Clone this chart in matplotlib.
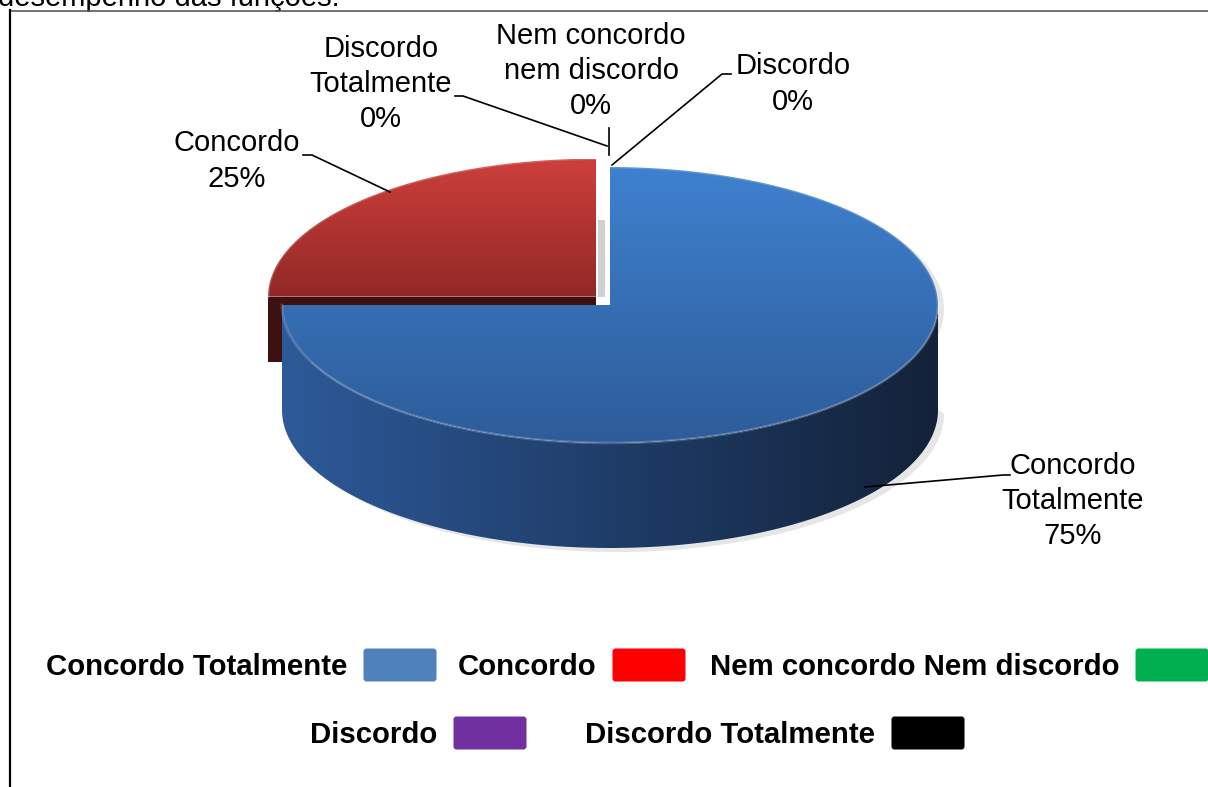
"""3D-style pie of agreement answers with legend below."""

import numpy as np
import matplotlib.pyplot as plt
from matplotlib.patches import Polygon, FancyBboxPatch
from matplotlib.colors import LinearSegmentedColormap

categories = ["Concordo Totalmente", "Concordo", "Nem concordo Nem discordo",
              "Discordo", "Discordo Totalmente"]
slice_labels = ["Concordo\nTotalmente", "Concordo", "Nem concordo\nnem discordo",
                "Discordo", "Discordo\nTotalmente"]
shares = [75, 25, 0, 0, 0]
explode = [0.0, 0.06, 0.0, 0.0, 0.0]
legend_colors = ["#4f81bd", "#ff0000", "#00b050", "#7030a0", "#000000"]
top_colors = [["#3f81cf", "#2d5c99"], ["#cd3f3c", "#922826"],
              ["#00b050", "#00803a"], ["#7030a0", "#4f2272"], ["#333333", "#000000"]]
side_colors = [["#2d5a99", "#1f3d69", "#132239"], ["#4a1414", "#3e1111", "#2a0b0b"],
               ["#006830", "#005020", "#003010"], ["#4a2070", "#3a1858", "#2a1040"],
               ["#111111", "#080808", "#000000"]]
cut_colors = ["#1b3357", "#3e1111", "#004020", "#301248", "#000000"]

# pie geometry in pixels
cx, cy = 610, 305
ra, rb = 328, 138
depth = 105
back_depth = 0.62   # perspective: walls of slices sitting behind look shorter

FONT = "Liberation Sans"
FS = 21
FS_LEG = 21.2


def ell(x0, y0, th):
    th = np.radians(th)
    return np.column_stack([x0 + ra * np.cos(th), y0 - rb * np.sin(th)])


def fill_gradient(ax, xy, colors, vertical=True, zorder=1):
    patch = Polygon(xy, closed=True, facecolor="none", edgecolor="none",
                    transform=ax.transData)
    ax.add_patch(patch)
    cmap = LinearSegmentedColormap.from_list("g", colors)
    x0, y0 = xy.min(axis=0)
    x1, y1 = xy.max(axis=0)
    ramp = np.linspace(0, 1, 256)
    img = ramp[:, None] if vertical else ramp[None, :]
    im = ax.imshow(img, cmap=cmap, extent=(x0, x1, y1, y0), origin="upper",
                   aspect="auto", interpolation="bilinear", zorder=zorder)
    im.set_clip_path(patch)


fig = plt.figure(figsize=(12.08, 7.87), dpi=100)
ax = fig.add_axes([0, 0, 1, 1])
ax.set_axis_off()

total = float(sum(shares))
bounds = []
t = 90.0
for s in shares:
    sweep = s / total * 360.0
    bounds.append((t, t - sweep))
    t -= sweep

# soft shadow behind the pie
shadow = np.vstack([ell(cx + 6, cy + 4, np.linspace(90, -180, 200)),
                    ell(cx + 6, cy + 4 + depth, np.linspace(0, -180, 120))[::-1]])
ax.add_patch(Polygon(shadow, closed=True, facecolor="#c8c8c8", alpha=0.45,
                     edgecolor="none", zorder=0.5))
# shadow seen through the gap of the exploded slice
ax.add_patch(Polygon([(cx - 12, cy - 85), (cx - 5, cy - 85), (cx - 5, cy - 8),
                      (cx - 12, cy - 8)], closed=True, facecolor="#d0d0d0",
                     edgecolor="none", zorder=0.6))

for i in reversed(range(len(shares))):
    if shares[i] == 0:
        continue
    t0, t1 = bounds[i]
    mid = np.radians((t0 + t1) / 2)
    ox = cx + explode[i] * ra * np.cos(mid)
    oy = cy - explode[i] * ra * 0.6 * np.sin(mid)
    z = 3 if i == 0 else 1
    d = depth if np.sin(mid) <= 0 else depth * back_depth
    # radial cut faces that turn towards the viewer
    for tt, visible in ((t0, np.cos(np.radians(t0)) < -1e-6),
                        (t1, np.cos(np.radians(t1)) > 1e-6)):
        if visible:
            rim = ell(ox, oy, np.array([tt]))[0]
            face = np.array([[ox, oy], rim, [rim[0], rim[1] + d], [ox, oy + d]])
            ax.add_patch(Polygon(face, closed=True, facecolor=cut_colors[i],
                                 edgecolor="none", zorder=z))
    # front side wall
    lo, hi = max(t1, -180.0), min(t0, 0.0)
    if hi > lo:
        th = np.linspace(hi, lo, 200)
        wall = np.vstack([ell(ox, oy, th), ell(ox, oy + d, th)[::-1]])
        fill_gradient(ax, wall, side_colors[i], vertical=False, zorder=z + 0.1)
    # top face
    th = np.linspace(t0, t1, 300)
    top = np.vstack([[ox, oy], ell(ox, oy, th)])
    fill_gradient(ax, top, top_colors[i], vertical=True, zorder=z + 0.2)
    rim = ell(ox, oy, th)
    ax.plot(rim[:, 0], rim[:, 1], color="white", alpha=0.18, lw=2, zorder=z + 0.3)

# data labels with leader lines
label_pos = [(1073, 501), (237, 161), (591, 71), (793, 84), (381, 84)]
leaders = [[(865, 487), (1003, 475), (1010, 475)],
           [(390, 192), (312, 155), (303, 155)],
           [(609, 155), (609, 128)],
           [(612, 165), (722, 74), (731, 74)],
           [(607, 146), (463, 96), (455, 96)]]
for i, name in enumerate(slice_labels):
    x, y = label_pos[i]
    ax.text(x, y, f"{name}\n{shares[i]}%", ha="center", va="center",
            fontsize=FS, family=FONT, linespacing=1.33, zorder=10)
    pts = np.array(leaders[i])
    ax.plot(pts[:, 0], pts[:, 1], color="black", lw=1.2, zorder=9)

# legend, text before swatch
legend_x = [363, 612, 1135, 453, 891]
legend_y = [665, 665, 665, 733, 733]
for i, name in enumerate(categories):
    px, py = legend_x[i], legend_y[i]
    ax.add_patch(FancyBboxPatch((px + 2, py - 15), 70, 30,
                                boxstyle="round,pad=1.5,rounding_size=3",
                                facecolor=legend_colors[i], edgecolor="none", zorder=10))
    ax.text(px - 16, py + 2, name, ha="right", va="center", fontsize=FS_LEG,
            family=FONT, fontweight="bold", zorder=10)

# clipped caption above and frame of the chart area
ax.text(-2, 6, "desempenho das funções.", ha="left", va="baseline",
        fontsize=FS, family=FONT, zorder=10)
ax.plot([10, 1208], [10.5, 10.5], color="#595959", lw=1.2, zorder=10)
ax.plot([9.5, 9.5], [10, 787], color="black", lw=1.6, zorder=10)

ax.set_xlim(0, 1208)
ax.set_ylim(787, 0)
fig.savefig("out.png", dpi=100)
